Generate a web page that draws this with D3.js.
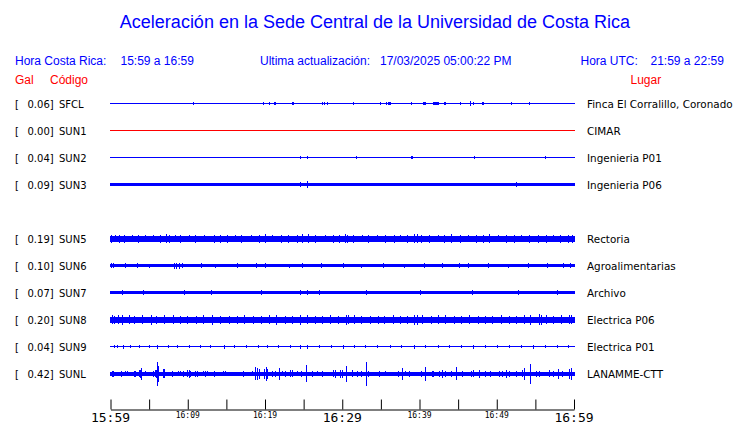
<!DOCTYPE html>
<html><head><meta charset="utf-8">
<script src="https://cdn.jsdelivr.net/npm/d3@7"></script>
<style>html,body{margin:0;padding:0;background:#fff;}svg{display:block;}</style>
</head><body>
<svg id="c" width="740" height="423"></svg>
<script>
// ---------- data ----------
const title = "Aceleración en la Sede Central de la Universidad de Costa Rica";
const horaCR = "15:59 a 16:59";
const horaUTC = "21:59 a 22:59";
const ultima = "17/03/2025 05:00:22 PM";
const slots = ["SFCL","SUN1","SUN2","SUN3","SUN4","SUN5","SUN6","SUN7","SUN8","SUN9","SUNL"];
const codes = ["SFCL","SUN1","SUN2","SUN3","SUN5","SUN6","SUN7","SUN8","SUN9","SUNL"];
const gal = [0.06,0.00,0.04,0.09,0.19,0.10,0.07,0.20,0.04,0.42];
const places = ["Finca El Corralillo, Coronado","CIMAR","Ingenieria P01","Ingenieria P06","Rectoria","Agroalimentarias","Archivo","Electrica P06","Electrica P01","LANAMME-CTT"];
const active = [true,false,true,true,true,true,true,true,true,true];
// background trace amplitude (relative units) for each station
const baseAmp = [0.5,0.5,0.5,1.5,3,1.5,1.5,3,0.5,2];
// spikes: [minute after 15:59, amplitude, duration in minutes (optional)]
const spikesSFCL = [[10.7,1.5],[19.8,1.5],[20.6,1.5],[21.2,1.5,0.3],[23.5,1.5],[23.7,1.5],[27.4,1.5],[27.7,1.5],[28.1,1.5],[31.5,1.5],[34.9,1.5],[35.7,1.5],[36.0,1.5,0.35],[38.9,1.5],[40.5,1.5,0.35],[41.8,1.5,0.8],[43.2,1.5,0.3],[45.3,1.5],[46.6,2.5],[47.0,1.5],[48.2,1.5,0.25],[51.9,1.5],[54.2,1.5]];
const spikesSUN1 = [];
const spikesSUN2 = [[24.6,1.5],[25.5,1.5],[31.8,1.5],[39.0,1.5,0.2],[47.1,1.5],[56.3,1.5]];
const spikesSUN3 = [[24.6,2.5],[25.5,3.5],[52.5,2.5]];
const spikesSUN5 = [[0.1,4],[0.6,3.5],[1.2,4],[1.8,4],[2.8,3.5],[3.6,4],[4.5,3.5],[5.6,3.5],[6.5,4],[7.3,4.5],[7.6,4],[8.4,3.5],[9.1,4],[10.2,3.5],[11.0,4],[12.2,3.5],[13.4,4],[14.3,4],[15.1,4],[16.2,3.5],[17.0,4],[18.2,3.5],[19.3,4],[20.0,4.5],[21.0,3.5],[22.1,4],[23.0,4],[24.2,4],[24.8,4.5],[25.6,4.5],[26.6,4],[27.8,3.5],[28.9,4],[29.6,4],[30.4,4.5],[30.7,4],[31.5,4],[32.6,3.5],[33.4,4],[34.5,3.5],[35.6,4],[36.7,4],[37.6,3.5],[38.5,4],[39.4,4.5],[39.7,4.5],[40.3,4],[41.3,4],[42.4,3.5],[43.3,4],[44.2,4.5],[45.3,4],[46.4,3.5],[47.4,4],[48.3,4],[49.1,4.5],[50.2,3.5],[51.3,4],[52.3,4],[53.2,3.5],[54.3,4],[55.4,4],[56.4,4],[57.3,3.5],[58.3,4],[59.3,4],[59.8,4]];
const spikesSUN6 = [[0.1,2.5],[0.4,2.5],[1.9,2.5],[3.5,2.5],[5.0,2],[8.3,3],[8.6,3],[8.9,3],[9.3,2.5],[11.8,2.5],[13.6,2],[16.5,2.5],[18.9,2.5],[20.0,2.5],[23.2,2],[24.8,2.5],[27.3,2.5],[30.2,2.5],[32.5,2],[35.4,2.5],[38.1,2],[40.6,2.5],[43.0,2.5],[45.2,2.5],[46.4,2.5],[48.9,2.5],[51.5,2],[54.1,2.5],[56.6,2.5],[58.6,2.5],[59.6,2.5]];
const spikesSUN7 = [[1.6,2.5],[4.3,2.5],[9.6,2.5],[13.1,2.5],[19.5,2.5],[24.6,2.5],[25.5,2.5],[27.1,2.5],[33.2,2.5],[40.1,2.5],[46.8,2.5],[52.8,2.5],[57.9,2.5]];
const spikesSUN8 = [[0.2,4.5],[0.5,4],[1.0,4.5],[1.6,5],[2.4,4.5],[3.1,4],[4.2,4.5],[5.3,5],[6.0,4],[7.0,4.5],[8.1,4.5],[9.0,4],[10.0,4],[11.1,4],[12.0,4.5],[13.2,5],[14.3,4],[15.4,4],[16.4,4],[17.4,4.5],[18.5,4],[19.6,4],[20.6,4.5],[21.5,5],[22.6,4],[23.5,4],[24.6,5],[25.5,4.5],[26.6,4],[27.4,4],[28.5,4.5],[29.5,4],[30.5,5],[30.8,4.5],[31.6,4.5],[32.5,4],[33.6,4],[34.7,4],[35.5,4],[36.6,4.5],[37.6,4],[38.5,4],[39.4,5],[39.8,5],[40.4,4.5],[41.5,4],[42.4,4.5],[43.4,4.5],[44.5,4],[45.5,4],[46.5,4.5],[47.6,4],[48.5,4],[49.5,4],[50.6,4.5],[51.6,4],[52.5,4],[53.6,4.5],[54.4,5],[55.5,5.5],[55.8,5],[56.4,4.5],[57.4,4],[58.4,4.5],[59.4,4.5],[59.7,4.5]];
const spikesSUN9 = [[0.5,1.5],[0.9,1.5],[1.7,2],[2.6,1.5],[3.8,1.5],[5.0,1.5],[6.1,2],[7.5,1.5],[8.7,1.5],[10.2,1.5],[11.6,1.5],[13.0,1.5],[14.7,2],[16.1,1.5],[17.6,1.5],[19.2,1.5],[20.3,1.5],[21.8,1.5],[23.3,1.5],[24.6,2],[25.5,2],[27.0,1.5],[28.6,1.5],[30.1,2],[31.6,1.5],[33.0,1.5],[34.6,1.5],[36.2,1.5],[37.7,1.5],[39.3,2],[40.8,1.5],[42.4,1.5],[43.9,1.5],[45.5,1.5],[47.0,2],[48.6,1.5],[50.1,1.5],[51.7,1.5],[53.2,1.5],[54.8,2],[56.3,1.5],[57.8,1.5],[59.3,1.5]];
const spikesSUNL = [[0.2,3],[0.4,3],[1.4,3],[1.9,2.5],[2.2,2.5],[3.1,3],[3.3,3],[3.8,3.5],[3.9,4],[4.0,6],[4.5,2.5],[5.6,3],[5.8,3.5],[5.9,4],[6.1,12],[6.25,8],[6.8,4.5],[7.0,4.5],[8.0,3],[8.75,2.5],[9.05,2.5],[9.5,3],[10.0,3.5],[10.25,4],[10.4,3],[11.0,3],[11.2,3],[12.0,2.5],[12.25,3],[12.5,2.5],[13.4,3],[14.65,2.5],[14.95,2.5],[17.25,3],[18.35,2.5],[18.8,6.5],[19.05,6],[19.3,5],[19.95,5],[20.2,7],[20.35,5],[21.0,3],[21.4,3],[21.9,6],[22.3,2.5],[22.6,3],[23.35,3.5],[23.6,3.5],[24.2,2.5],[24.75,3],[25.4,8.5],[26.1,3],[26.8,2.5],[27.45,3],[28.9,3.5],[29.1,4],[29.8,4],[30.0,4],[30.5,8],[31.35,3.5],[32.0,3],[32.55,3],[33.15,12],[33.35,3],[34.8,3],[35.55,2.5],[37.3,3],[37.8,6],[38.25,2.5],[38.65,3],[40.2,3],[40.8,7],[41.65,3],[41.85,3],[42.6,3],[43.0,4],[43.4,3],[44.2,3],[44.8,6.5],[45.55,3],[46.75,3],[46.95,3.5],[47.75,4],[48.6,3],[49.15,3],[50.4,3],[50.8,3],[51.3,4],[51.65,3],[52.5,3],[53.3,3.5],[53.6,6],[54.35,10],[55.2,3],[55.5,3],[56.8,3.5],[57.3,3],[58.0,5],[58.45,3],[59.4,5],[59.7,6]];
const spikes = [spikesSFCL,spikesSUN1,spikesSUN2,spikesSUN3,spikesSUN5,spikesSUN6,spikesSUN7,spikesSUN8,spikesSUN9,spikesSUNL];
const tickMinutes = [0,5,10,15,20,25,30,35,40,45,50,55,60];
const tickLabels = ["15:59","","16:09","","16:19","","16:29","","16:39","","16:49","","16:59"];
const majorLabels = ["15:59","16:29","16:59"];

// ---------- drawing ----------
const svg = d3.select("#c");
const BLUE = "#0000ff", RED = "#ff0000";
const t0 = new Date(2025,2,17,15,59);
const t1 = d3.timeMinute.offset(t0,60);
const x = d3.scaleTime().domain([t0,t1]).range([110.5,574]);
const xm = m => x(d3.timeSecond.offset(t0, Math.round(m*60)));
const y = d3.scalePoint().domain(slots).range([103.5,373.5]);
const amp = d3.scaleLinear().domain([0,1]).range([0,1]);

svg.append("text").attr("x",375).attr("y",28).attr("text-anchor","middle")
  .attr("font-family","Liberation Sans, Arial, sans-serif").attr("font-size",18)
  .attr("fill",BLUE).text(title);

const hdr = (tx,xx,yy,col,anchor) => svg.append("text").attr("x",xx).attr("y",yy)
  .attr("font-family","Liberation Sans, Arial, sans-serif").attr("font-size",12)
  .attr("fill",col).attr("text-anchor",anchor||"start").text(tx);
hdr("Hora Costa Rica:",15,65,BLUE);
hdr(horaCR,120.5,65,BLUE);
hdr("Ultima actualización:",260,65,BLUE);
hdr(ultima,380,65,BLUE);
hdr("Hora UTC:",580.5,65,BLUE);
hdr(horaUTC,650.5,65,BLUE);
hdr("Gal",15,84,RED);
hdr("Código",50,84,RED);
hdr("Lugar",630.5,84,RED);

const g = svg.append("g");
codes.forEach((code,i)=>{
  const yc = y(code);
  const col = active[i] ? BLUE : RED;
  const lab = g.append("g").attr("font-family","DejaVu Sans, sans-serif").attr("font-size",10).attr("fill","#000");
  lab.append("text").attr("x",15).attr("y",yc+4.5).text("[");
  lab.append("text").attr("x",27.5).attr("y",yc+4.5).text(gal[i].toFixed(2)+"]");
  lab.append("text").attr("x",59).attr("y",yc+4.5).text(code);
  lab.append("text").attr("x",587).attr("y",yc+4).attr("font-size",10.4).text(places[i]);
  const tr = g.append("g").attr("shape-rendering","crispEdges").attr("fill",col);
  // base trace
  const b = Math.max(amp(baseAmp[i]),0.5);
  tr.append("rect").attr("x",Math.floor(xm(0))).attr("width",Math.round(xm(60)-xm(0))+1)
    .attr("y",Math.round(yc-b)).attr("height",Math.round(2*b));
  // spikes
  tr.selectAll(null).data(spikes[i]).enter().append("rect")
    .attr("x",d=>Math.floor(xm(d[0])))
    .attr("width",d=>Math.max(1, Math.round(xm(d[0]+(d[2]||0))-xm(d[0]))))
    .attr("y",d=>Math.round(yc-amp(d[1])))
    .attr("height",d=>Math.round(2*amp(d[1])));
});

// axis
const ax = svg.append("g").attr("transform","translate(0,409.5)");
ax.call(d3.axisBottom(x).tickValues(tickMinutes.map(m=>d3.timeMinute.offset(t0,m)))
  .tickSizeInner(-10).tickSizeOuter(0).tickFormat(""));
ax.select(".domain").attr("stroke","#000");
ax.selectAll(".tick line").attr("stroke","#000");
tickMinutes.forEach((m,i)=>{
  const lbl = tickLabels[i];
  if(!lbl) return;
  const major = majorLabels.includes(lbl);
  ax.append("text").attr("x",xm(m)).attr("y",major?12:8.5)
    .attr("text-anchor","middle").attr("font-family","DejaVu Sans Mono, monospace")
    .attr("font-size",major?13:8).attr("fill","#000").text(lbl);
});
</script>
</body></html>
